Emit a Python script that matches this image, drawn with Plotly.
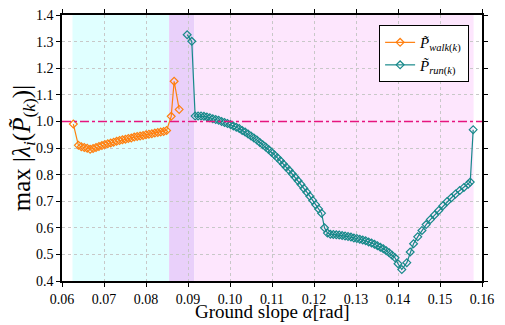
import plotly.graph_objects as go

# ---- data ----
walk_x = [0.0627, 0.0639, 0.0646, 0.0653, 0.0660, 0.0667, 0.0674, 0.0681, 0.0688, 0.0695,
          0.0702, 0.0709, 0.0716, 0.0723, 0.0730, 0.0737, 0.0744, 0.0751, 0.0758, 0.0765,
          0.0772, 0.0779, 0.0786, 0.0793, 0.0800, 0.0807, 0.0814, 0.0821, 0.0828, 0.0835,
          0.0842, 0.0849, 0.0860, 0.0867, 0.0879]
walk_y = [0.990, 0.910, 0.905, 0.902, 0.899, 0.895, 0.898, 0.902, 0.906, 0.909,
          0.913, 0.916, 0.919, 0.922, 0.925, 0.928, 0.931, 0.933, 0.936, 0.938,
          0.941, 0.943, 0.945, 0.947, 0.950, 0.952, 0.954, 0.956, 0.958, 0.960,
          0.962, 0.966, 1.019, 1.151, 1.045]

run_x = [0.0898, 0.0909, 0.0917, 0.0924, 0.0931, 0.0938, 0.0945, 0.0952, 0.0959, 0.0966,
         0.0973, 0.0980, 0.0987, 0.0994, 0.1001, 0.1008, 0.1015, 0.1022, 0.1029, 0.1036,
         0.1043, 0.1050, 0.1057, 0.1064, 0.1071, 0.1078, 0.1085, 0.1092, 0.1099, 0.1106,
         0.1113, 0.1120, 0.1127, 0.1134, 0.1141, 0.1148, 0.1155, 0.1162, 0.1169, 0.1176,
         0.1183, 0.1190, 0.1197, 0.1204, 0.1211, 0.1218, 0.1225, 0.1232, 0.1239, 0.1246,
         0.1253, 0.1260, 0.1267, 0.1274, 0.1281, 0.1288, 0.1295, 0.1302, 0.1309, 0.1316,
         0.1323, 0.1330, 0.1337, 0.1344, 0.1351, 0.1358, 0.1365, 0.1372, 0.1379, 0.1386,
         0.1393, 0.1400, 0.1409, 0.1421, 0.1429, 0.1437, 0.1447, 0.1457, 0.1467, 0.1477,
         0.1487, 0.1497, 0.1507, 0.1517, 0.1527, 0.1537, 0.1547, 0.1557, 0.1567, 0.1572,
         0.1579]
run_y = [1.326, 1.301, 1.020, 1.020, 1.020, 1.019, 1.017, 1.014, 1.010, 1.007,
         1.004, 1.000, 0.996, 0.992, 0.988, 0.983, 0.978, 0.973, 0.966, 0.960,
         0.953, 0.945, 0.938, 0.930, 0.921, 0.912, 0.904, 0.894, 0.884, 0.874,
         0.863, 0.852, 0.840, 0.828, 0.816, 0.803, 0.790, 0.777, 0.763, 0.748,
         0.734, 0.719, 0.703, 0.687, 0.671, 0.655, 0.600, 0.580, 0.576, 0.575,
         0.574, 0.573, 0.571, 0.569, 0.567, 0.565, 0.562, 0.560, 0.557, 0.554,
         0.551, 0.547, 0.543, 0.538, 0.533, 0.527, 0.521, 0.514, 0.506, 0.497,
         0.487, 0.465, 0.443, 0.469, 0.509, 0.540, 0.566, 0.590, 0.612, 0.631,
         0.648, 0.665, 0.683, 0.699, 0.713, 0.727, 0.740, 0.752, 0.764, 0.772,
         0.969]

# shaded regions: (x0, x1, colour)
regions = [(0.0625, 0.0855, "#e0ffff"),
           (0.0855, 0.0915, "#e9d0fa"),
           (0.0915, 0.1580, "#fde6fd")]
threshold = 1.0

x_ticks = [0.06, 0.07, 0.08, 0.09, 0.10, 0.11, 0.12, 0.13, 0.14, 0.15, 0.16]
y_ticks = [0.4, 0.5, 0.6, 0.7, 0.8, 0.9, 1.0, 1.1, 1.2, 1.3, 1.4]
x_title = "Ground slope <i>α</i>[rad]"
y_title = "max |<i>λ<sub>i</sub></i>(<i>P̃</i><sub>(<i>k</i>)</sub>)|"

SERIF = "Liberation Serif, Times New Roman, DejaVu Serif, serif"
ORANGE = "#ff7f0e"
TEAL = "#17898a"

fig = go.Figure()

fig.add_trace(go.Scatter(
    x=walk_x, y=walk_y, mode="lines+markers",
    name="<i>P̃</i><sub><i>walk</i>(<i>k</i>)</sub>",
    line=dict(color=ORANGE, width=1.2),
    marker=dict(symbol="diamond-open", size=6, color=ORANGE, line=dict(width=1.2, color=ORANGE)),
))
fig.add_trace(go.Scatter(
    x=run_x, y=run_y, mode="lines+markers",
    name="<i>P̃</i><sub><i>run</i>(<i>k</i>)</sub>",
    line=dict(color=TEAL, width=1.2),
    marker=dict(symbol="diamond-open", size=6, color=TEAL, line=dict(width=1.2, color=TEAL)),
))

for x0, x1, c in regions:
    fig.add_shape(type="rect", xref="x", yref="y", x0=x0, x1=x1, y0=0.4, y1=1.4,
                  fillcolor=c, line=dict(width=0), layer="below")

fig.add_shape(type="line", xref="x", yref="y", x0=0.06, x1=0.16, y0=threshold, y1=threshold,
              line=dict(color="#e6157e", width=1.5, dash="dashdot"), layer="above")

axis_common = dict(
    showline=True, linecolor="black", linewidth=1.5, mirror="ticks",
    ticks="outside", ticklen=4, tickcolor="black",
    showgrid=True, gridcolor="#c8c8c8", griddash="dot", gridwidth=1,
    zeroline=False, automargin=False, ticklabeloverflow="allow",
    tickfont=dict(family=SERIF, size=14, color="black"),
)

fig.update_xaxes(range=[0.06, 0.16], tickvals=x_ticks, tickformat=".2f", **axis_common)
fig.update_yaxes(range=[0.4, 1.4001], tickvals=y_ticks, tickformat=".1f",
                 title=dict(text=y_title, font=dict(family=SERIF, size=25, color="black"), standoff=4),
                 **axis_common)

# x-axis title placed below the tick labels
fig.add_annotation(text=x_title, xref="paper", yref="paper", x=0.5, y=-0.068,
                   xanchor="center", yanchor="top", showarrow=False,
                   font=dict(family=SERIF, size=19, color="black"))

# page body adds an 8px margin, so the figure is drawn 8px smaller
fig.update_layout(
    width=497, height=317,
    margin=dict(l=54, r=23, t=7, b=44, autoexpand=False),
    plot_bgcolor="white", paper_bgcolor="white",
    font=dict(family=SERIF, color="black"),
    showlegend=True,
    legend=dict(x=0.755, y=0.962, xanchor="left", yanchor="top",
                bgcolor="white", bordercolor="black", borderwidth=1,
                font=dict(family=SERIF, size=15, color="black"),
                itemwidth=30, tracegroupgap=0),
)

fig.write_html("out.html")
